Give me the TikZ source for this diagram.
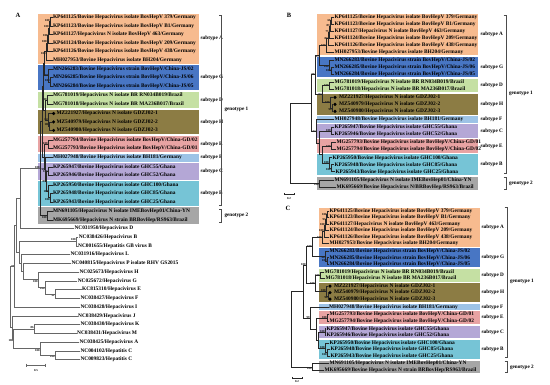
\documentclass[tikz,border=0pt]{standalone}
\usepackage{fontspec}
\setmainfont{Liberation Serif}
\definecolor{cA}{RGB}{247,187,143}
\definecolor{cG}{RGB}{72,118,196}
\definecolor{cD}{RGB}{197,224,163}
\definecolor{cH}{RGB}{140,124,68}
\definecolor{cE}{RGB}{232,163,163}
\definecolor{cF}{RGB}{157,195,230}
\definecolor{cC}{RGB}{180,167,214}
\definecolor{cB}{RGB}{118,196,214}
\definecolor{cN}{RGB}{166,166,166}
\begin{document}
\begin{tikzpicture}[x=1pt, y=-1pt,
  lf/.style={anchor=west, inner sep=0.3pt, font=\fontsize{5.4}{5.4}\selectfont\bfseries},
  st/.style={anchor=west, inner sep=0.3pt, font=\fontsize{5.2}{5.2}\selectfont\bfseries},
  dt/.style={circle, fill=black, inner sep=0pt, minimum size=3.4pt},
  bs/.style={inner sep=0.2pt, font=\fontsize{3}{3}\selectfont\bfseries},
  br/.style={draw=black!85, line width=0.5pt},
  og/.style={draw=black!60, line width=0.6pt},
  bk/.style={draw=black!70, line width=0.5pt},
  pn/.style={font=\fontsize{6.5}{6.5}\selectfont\bfseries}]
\useasboundingbox (0,0) rectangle (550,384);
% panel letters
\node[pn] (pA) at (18,15) {A};
\node[pn] (pB) at (289,15) {B};
\node[pn] (pC) at (288,208) {C};
% boxes A
\fill[cA] (38,13.55) rectangle (198.7,63.7);
\fill[cG] (38,65.25) rectangle (198.7,90.05);
\fill[cD] (38,91.6) rectangle (198.7,107.95);
\fill[cH] (38,109.5) rectangle (198.7,134.3);
\fill[cE] (38,135.85) rectangle (198.7,152.2);
\fill[cF] (38,153.75) rectangle (198.7,161.65);
\fill[cC] (38,163.2) rectangle (198.7,179.55);
\fill[cB] (38,181.1) rectangle (198.7,205.9);
\fill[cN] (38,207.45) rectangle (198.7,223.8);
% boxes B
\fill[cA] (317,13.75) rectangle (477.5,55.25);
\fill[cG] (317,56.85) rectangle (477.5,77.35);
\fill[cD] (317,78.95) rectangle (477.5,92.45);
\fill[cH] (317,94.05) rectangle (477.5,114.55);
\fill[cF] (317,116.15) rectangle (477.5,122.65);
\fill[cC] (317,124.25) rectangle (477.5,137.75);
\fill[cE] (317,139.35) rectangle (477.5,152.85);
\fill[cB] (317,154.45) rectangle (477.5,174.95);
\fill[cN] (317,176.55) rectangle (477.5,190.05);
% boxes C
\fill[cA] (318.5,207.9) rectangle (479.5,246.6);
\fill[cG] (318.5,248.1) rectangle (479.5,267.3);
\fill[cD] (318.5,268.8) rectangle (479.5,281.5);
\fill[cH] (318.5,283) rectangle (479.5,302.2);
\fill[cF] (318.5,303.7) rectangle (479.5,309.9);
\fill[cE] (318.5,311.4) rectangle (479.5,324.1);
\fill[cC] (318.5,325.6) rectangle (479.5,338.3);
\fill[cB] (318.5,339.8) rectangle (479.5,359);
\fill[cN] (318.5,360.5) rectangle (479.5,373.2);

% leaves A
\node[lf] (a1) at (52.5,17.5) {KP641125/Bovine Hepacivirus isolate BovHepV 379/Germany};
\node[lf] (a2) at (52.5,25.95) {KP641123/Bovine Hepacivirus isolate BovHepV B1/Germany};
\node[lf] (a3) at (52.5,34.4) {KP641127/Hepacivirus N isolate BovHepV 463/Germany};
\node[lf] (a4) at (52.5,42.85) {KP641124/Bovine Hepacivirus isolate BovHepV 209/Germany};
\node[lf] (a5) at (52.5,51.3) {KP641126/Bovine Hepacivirus isolate BovHepV 438/Germany};
\node[lf] (a6) at (52.5,59.75) {MH027953/Bovine Hepacivirus isolate BH204/Germany};
\node[lf] (a7) at (52.5,69.2) {MN266283/Bovine Hepacivirus strain BovHepV/China-JS/02};
\node[lf] (a8) at (52.5,77.65) {MN266285/Bovine Hepacivirus strain BovHepV/China-JS/06};
\node[lf] (a9) at (52.5,86.1) {MN266284/Bovine Hepacivirus strain BovHepV/China-JS/05};
\node[lf] (a10) at (52.5,95.55) {MG781019/Hepacivirus N isolate BR RN034B019/Brazil};
\node[lf] (a11) at (52.5,104) {MG781018/Hepacivirus N isolate BR MA236B017/Brazil};
\node[dt] (da12) at (53.6,113.45) {};
\node[dt] (da13) at (53.6,121.9) {};
\node[dt] (da14) at (53.6,130.35) {};
\node[lf] (a12) at (56,113.45) {MZ221927/Hepacivirus N isolate GDZJ02-1};
\node[lf] (a13) at (56,121.9) {MZ540979/Hepacivirus N isolate GDZJ02-2};
\node[lf] (a14) at (56,130.35) {MZ540980/Hepacivirus N isolate GDZJ02-3};
\node[lf] (a15) at (52.5,139.8) {MG257794/Bovine Hepacivirus isolate BovHepV/China-GD/02};
\node[lf] (a16) at (52.5,148.25) {MG257793/Bovine Hepacivirus isolate BovHepV/China-GD/01};
\node[lf] (a17) at (52.5,157.7) {MH027948/Bovine Hepacivirus isolate BH181/Germany};
\node[lf] (a18) at (52.5,167.15) {KP265947/Bovine Hepacivirus isolate GHC55/Ghana};
\node[lf] (a19) at (52.5,175.6) {KP265946/Bovine Hepacivirus isolate GHC52/Ghana};
\node[lf] (a20) at (52.5,185.05) {KP265950/Bovine Hepacivirus isolate GHC100/Ghana};
\node[lf] (a21) at (52.5,193.5) {KP265948/Bovine Hepacivirus isolate GHC85/Ghana};
\node[lf] (a22) at (52.5,201.95) {KP265943/Bovine Hepacivirus isolate GHC25/Ghana};
\node[lf] (a23) at (52.5,211.4) {MN691105/Hepacivirus N isolate IMEBovHep01/China-YN};
\node[lf] (a24) at (52.5,219.85) {MK695669/Hepacivirus N strain BRBovHep/RS963/Brazil};
\node[lf] (a25) at (74,228.3) {NC031950/Hepacivirus D};
\node[lf] (a26) at (78.3,237.05) {NC038426/Hepacivirus B};
\node[lf] (a27) at (77.7,245.8) {NC001655/Hepatitis GB virus B};
\node[lf] (a28) at (70,254.55) {NC031916/Hepacivirus L};
\node[lf] (a29) at (71,263.3) {NC040815/Hepacivirus P isolate RHV GS2015};
\node[lf] (a30) at (79,272.05) {NC025673/Hepacivirus H};
\node[lf] (a31) at (77.3,280.8) {NC025672/Hepacivirus G};
\node[lf] (a32) at (81.7,289.55) {KC815310/Hepacivirus E};
\node[lf] (a33) at (80,298.3) {NC038427/Hepacivirus F};
\node[lf] (a34) at (80,307.05) {NC038428/Hepacivirus I};
\node[lf] (a35) at (77.7,315.8) {NC038429/Hepacivirus J};
\node[lf] (a36) at (80,324.55) {NC038430/Hepacivirus K};
\node[lf] (a37) at (76.7,333.3) {NC038431/Hepacivirus M};
\node[lf] (a38) at (79,342.05) {NC038425/Hepacivirus A};
\node[lf] (a39) at (80,350.8) {NC004102/Hepatitis C};
\node[lf] (a40) at (80,359.55) {NC009823/Hepatitis C};
% subtypes A
\node[st] (sa1) at (200,38.6) {subtype A};
\node[st] (sa2) at (200,77.65) {subtype G};
\node[st] (sa3) at (200,99.8) {subtype D};
\node[st] (sa4) at (200,121.9) {subtype H};
\node[st] (sa5) at (200,144) {subtype E};
\node[st] (sa6) at (200,157.7) {subtype F};
\node[st] (sa7) at (200,171.4) {subtype C};
\node[st] (sa8) at (200,193.5) {subtype B};
\draw[bk] (219.2,15) -- (221.7,15) -- (221.7,205) -- (219.2,205);
\node[st] (ga1) at (224,109) {genotype 1};
\draw[bk] (219.2,209) -- (221.7,209) -- (221.7,222) -- (219.2,222);
\node[st] (ga2) at (224,215.6) {genotype 2};

% tree A
\coordinate[label={[bs]above left:100}] (aA1) at (50,21.7);
\coordinate[label={[bs]above left:100}] (aA2) at (49,28.1);
\coordinate[label={[bs]left:100}] (aA3) at (48,35.5);
\coordinate[label={[bs]above left:100}] (aA4) at (47,43.4);
\coordinate[label={[bs]below left:100}] (aA) at (46,51.6);
\coordinate[label={[bs]above left:100}] (aG1) at (50,81.9);
\coordinate[label={[bs]left:97}] (aG) at (48.5,75.5);
\coordinate (aAG) at (44.5,63.5);
\coordinate[label={[bs]left:100}] (aD) at (47,99.8);
\coordinate[label={[bs]above left:100}] (aH1) at (49.5,126.1);
\coordinate[label={[bs]left:64}] (aH) at (48,119.8);
\coordinate (aDH) at (45.5,109.8);
\coordinate (aup) at (43.5,86.6);
\coordinate[label={[bs]left:100}] (aE) at (48,144);
\coordinate[label={[bs]left:100}] (aC) at (48,171.4);
\coordinate[label={[bs]below left:100}] (aB1) at (50,197.7);
\coordinate[label={[bs]left:100}] (aB) at (48.5,191.4);
\coordinate[label={[bs]left:83}] (aCB) at (46,181.4);
\coordinate[label={[bs]left:99}] (aFCB) at (45,169.5);
\coordinate (alow) at (44,156.8);
\coordinate (ag1) at (42.5,121.7);
\coordinate[label={[bs]below left:100}] (ag2) at (47,215.6);
\coordinate[label={[bs]above left:100}] (abov) at (40,168.7);
\draw[br] (aA1) |- (a1.west) (aA1) |- (a2.west);
\draw[br] (aA2) |- (aA1) (aA2) |- (a3.west);
\draw[br] (aA3) |- (aA2) (aA3) |- (a4.west);
\draw[br] (aA4) |- (aA3) (aA4) |- (a5.west);
\draw[br] (aA) |- (aA4) (aA) |- (a6.west);
\draw[br] (aG1) |- (a8.west) (aG1) |- (a9.west);
\draw[br] (aG) |- (a7.west) (aG) |- (aG1);
\draw[br] (aAG) |- (aA) (aAG) |- (aG);
\draw[br] (aD) |- (a10.west) (aD) |- (a11.west);
\draw[br] (aH1) |- (da13.west) (aH1) |- (da14.west);
\draw[br] (aH) |- (da12.west) (aH) |- (aH1);
\draw[br] (aDH) |- (aD) (aDH) |- (aH);
\draw[br] (aup) |- (aAG) (aup) |- (aDH);
\draw[br] (aE) |- (a15.west) (aE) |- (a16.west);
\draw[br] (aC) |- (a18.west) (aC) |- (a19.west);
\draw[br] (aB1) |- (a21.west) (aB1) |- (a22.west);
\draw[br] (aB) |- (a20.west) (aB) |- (aB1);
\draw[br] (aCB) |- (aC) (aCB) |- (aB);
\draw[br] (aFCB) |- (a17.west) (aFCB) |- (aCB);
\draw[br] (alow) |- (aE) (alow) |- (aFCB);
\draw[br] (ag1) |- (aup) (ag1) |- (alow);
\draw[br] (ag2) |- (a23.west) (ag2) |- (a24.west);
\draw[br] (abov) |- (ag1) (abov) |- (ag2);
% outgroups A
\coordinate (aDB) at (20.7,198.5);
\coordinate[label={[bs]above left:100}] (aBGB) at (76,241.4);
\coordinate[label={[bs]below left:91}] (aEF) at (55,293.9);
\coordinate[label={[bs]below left:100}] (aGEF) at (45,287.4);
\coordinate[label={[bs]below left:100}] (aHGEF) at (38,279.7);
\coordinate (aPHGEF) at (23,271.5);
\coordinate (aLP) at (21,263);
\coordinate (aBL) at (19,252.2);
\coordinate (aBig) at (16.5,225.4);
\coordinate[label={[bs]left:78}] (aI) at (14.5,266.2);
\coordinate[label={[bs]above left:86}] (aKM) at (34,328.9);
\coordinate[label={[bs]below left:100}] (aHCV) at (55,355.2);
\coordinate[label={[bs]below left:100}] (aAH) at (40,348.6);
\coordinate[label={[bs]below left:100}] (aKMAH) at (13.5,338.8);
\coordinate (aJ) at (12,327.3);
\coordinate (aroot) at (10,296.8);
\draw[og] (aDB) |- (abov) (aDB) |- (a25.west);
\draw[og] (aBGB) |- (a26.west) (aBGB) |- (a27.west);
\draw[og] (aEF) |- (a32.west) (aEF) |- (a33.west);
\draw[og] (aGEF) |- (a31.west) (aGEF) |- (aEF);
\draw[og] (aHGEF) |- (a30.west) (aHGEF) |- (aGEF);
\draw[og] (aPHGEF) |- (a29.west) (aPHGEF) |- (aHGEF);
\draw[og] (aLP) |- (a28.west) (aLP) |- (aPHGEF);
\draw[og] (aBL) |- (aBGB) (aBL) |- (aLP);
\draw[og] (aBig) |- (aDB) (aBig) |- (aBL);
\draw[og] (aI) |- (aBig) (aI) |- (a34.west);
\draw[og] (aKM) |- (a36.west) (aKM) |- (a37.west);
\draw[og] (aHCV) |- (a39.west) (aHCV) |- (a40.west);
\draw[og] (aAH) |- (a38.west) (aAH) |- (aHCV);
\draw[og] (aKMAH) |- (aKM) (aKMAH) |- (aAH);
\draw[og] (aJ) |- (a35.west) (aJ) |- (aKMAH);
\draw[og] (aroot) |- (aI) (aroot) |- (aJ);
% scale A
\draw[og] (26.7,365) -- (45,365) (26.7,363.5) -- (26.7,366.5) (45,363.5) -- (45,366.5);
\node[bs] (sca) at (36,370.5) {0.5};

% leaves B
\node[lf] (b1) at (334,17) {KP641125/Bovine Hepacivirus isolate BovHepV 379/Germany};
\node[lf] (b2) at (334,24) {KP641123/Bovine Hepacivirus isolate BovHepV B1/Germany};
\node[lf] (b3) at (334,31) {KP641127/Hepacivirus N isolate BovHepV 463/Germany};
\node[lf] (b4) at (334,38) {KP641124/Bovine Hepacivirus isolate BovHepV 209/Germany};
\node[lf] (b5) at (334,45) {KP641126/Bovine Hepacivirus isolate BovHepV 438/Germany};
\node[lf] (b6) at (334,52) {MH027953/Bovine Hepacivirus isolate BH204/Germany};
\node[lf] (b7) at (334,60.1) {MN266283/Bovine Hepacivirus strain BovHepV/China-JS/02};
\node[lf] (b8) at (334,67.1) {MN266285/Bovine Hepacivirus strain BovHepV/China-JS/06};
\node[lf] (b9) at (334,74.1) {MN266284/Bovine Hepacivirus strain BovHepV/China-JS/05};
\node[lf] (b10) at (334,82.2) {MG781019/Hepacivirus N isolate BR RN034B019/Brazil};
\node[lf] (b11) at (334,89.2) {MG781018/Hepacivirus N isolate BR MA236B017/Brazil};
\node[dt] (db12) at (335,97.3) {};
\node[dt] (db13) at (335,104.3) {};
\node[dt] (db14) at (335,111.3) {};
\node[lf] (b12) at (338.5,97.3) {MZ221927/Hepacivirus N isolate GDZJ02-1};
\node[lf] (b13) at (338.5,104.3) {MZ540979/Hepacivirus N isolate GDZJ02-2};
\node[lf] (b14) at (338.5,111.3) {MZ540980/Hepacivirus N isolate GDZJ02-3};
\node[lf] (b15) at (334,119.4) {MH027948/Bovine Hepacivirus isolate BH181/Germany};
\node[lf] (b16) at (334,127.5) {KP265947/Bovine Hepacivirus isolate GHC55/Ghana};
\node[lf] (b17) at (334,134.5) {KP265946/Bovine Hepacivirus isolate GHC52/Ghana};
\node[lf] (b18) at (336,142.6) {MG257793/Bovine Hepacivirus isolate BovHepV/China-GD/01};
\node[lf] (b19) at (336,149.6) {MG257794/Bovine Hepacivirus isolate BovHepV/China-GD/02};
\node[lf] (b20) at (332,157.7) {KP265950/Bovine Hepacivirus isolate GHC100/Ghana};
\node[lf] (b21) at (334,164.7) {KP265948/Bovine Hepacivirus isolate GHC85/Ghana};
\node[lf] (b22) at (335,171.7) {KP265943/Bovine Hepacivirus isolate GHC25/Ghana};
\node[lf] (b23) at (334,179.8) {MN691105/Hepacivirus N isolate IMEBovHep01/China-YN};
\node[lf] (b24) at (336,186.8) {MK695669/Bovine Hepacivirus N/BRBovHep/RS963/Brazil};
% subtypes B
\node[st] (sb1) at (480,34.5) {subtype A};
\node[st] (sb2) at (480,67.1) {subtype G};
\node[st] (sb3) at (480,85.7) {subtype D};
\node[st] (sb4) at (480,104.3) {subtype H};
\node[st] (sb5) at (480,119.4) {subtype F};
\node[st] (sb6) at (480,131) {subtype C};
\node[st] (sb7) at (480,146.1) {subtype E};
\node[st] (sb8) at (480,164.7) {subtype B};
\draw[bk] (503.5,15) -- (506,15) -- (506,173) -- (503.5,173);
\node[st] (gb1) at (508.5,93) {genotype 1};
\draw[bk] (503.5,177) -- (506,177) -- (506,189) -- (503.5,189);
\node[st] (gb2) at (508.5,183.3) {genotype 2};

% tree B
\coordinate[label={[bs]left:66}] (bA1) at (331,20.5);
\coordinate[label={[bs]left:83}] (bA2) at (330,25.75);
\coordinate[label={[bs]left:75}] (bA3) at (329,31.9);
\coordinate[label={[bs]left:87}] (bA4) at (328,38.45);
\coordinate[label={[bs]left:100}] (bA) at (326,45.2);
\coordinate[label={[bs]left:100}] (bG1) at (331,70.6);
\coordinate[label={[bs]below left:100}] (bG) at (329,65.35);
\coordinate[label={[bs]below left:95}] (bAG) at (319,55.3);
\coordinate[label={[bs]left:100}] (bD) at (329,85.7);
\coordinate[label={[bs]below left:99}] (bH1) at (332,107.8);
\coordinate[label={[bs]left:100}] (bH) at (330,102.55);
\coordinate[label={[bs]left:92}] (bDH) at (322,94.1);
\coordinate[label={[bs]left:98}] (bAGDH) at (315,74.7);
\coordinate[label={[bs]left:100}] (bC) at (331,131);
\coordinate[label={[bs]left:100}] (bE) at (331,146.1);
\coordinate[label={[bs]below left:100}] (bB1) at (331,168.2);
\coordinate[label={[bs]left:100}] (bB) at (329,162.95);
\coordinate (bEB) at (322,154.5);
\coordinate (bCEB) at (319,142.75);
\coordinate[label={[bs]left:72}] (bFCEB) at (316,131.1);
\coordinate (bg1) at (311,102.9);
\coordinate[label={[bs]below left:100}] (bg2) at (319,183.3);
\coordinate (broot) at (290,143.1);
\draw[br] (bA1) |- (b1.west) (bA1) |- (b2.west);
\draw[br] (bA2) |- (bA1) (bA2) |- (b3.west);
\draw[br] (bA3) |- (bA2) (bA3) |- (b4.west);
\draw[br] (bA4) |- (bA3) (bA4) |- (b5.west);
\draw[br] (bA) |- (bA4) (bA) |- (b6.west);
\draw[br] (bG1) |- (b8.west) (bG1) |- (b9.west);
\draw[br] (bG) |- (b7.west) (bG) |- (bG1);
\draw[br] (bAG) |- (bA) (bAG) |- (bG);
\draw[br] (bD) |- (b10.west) (bD) |- (b11.west);
\draw[br] (bH1) |- (db13.west) (bH1) |- (db14.west);
\draw[br] (bH) |- (db12.west) (bH) |- (bH1);
\draw[br] (bDH) |- (bD) (bDH) |- (bH);
\draw[br] (bAGDH) |- (bAG) (bAGDH) |- (bDH);
\draw[br] (bC) |- (b16.west) (bC) |- (b17.west);
\draw[br] (bE) |- (b18.west) (bE) |- (b19.west);
\draw[br] (bB1) |- (b21.west) (bB1) |- (b22.west);
\draw[br] (bB) |- (b20.west) (bB) |- (bB1);
\draw[br] (bEB) |- (bE) (bEB) |- (bB);
\draw[br] (bCEB) |- (bC) (bCEB) |- (bEB);
\draw[br] (bFCEB) |- (b15.west) (bFCEB) |- (bCEB);
\draw[br] (bg1) |- (bAGDH) (bg1) |- (bFCEB);
\draw[br] (bg2) |- (b23.west) (bg2) |- (b24.west);
\draw[br] (broot) |- (bg1) (broot) |- (bg2);
% scale B
\draw[br] (284,194) -- (294,194) (284,192.8) -- (284,195.2) (294,192.8) -- (294,195.2);
\node[bs] (scb) at (289,198.5) {0.2};

% leaves C
\node[lf] (c1) at (329,211) {KP641125/Bovine Hepacivirus isolate BovHepV 379/Germany};
\node[lf] (c2) at (329,217.5) {KP641123/Bovine Hepacivirus isolate BovHepV B1/Germany};
\node[lf] (c3) at (329,224) {KP641127/Hepacivirus N isolate BovHepV 463/Germany};
\node[lf] (c4) at (329,230.5) {KP641124/Bovine Hepacivirus isolate BovHepV 209/Germany};
\node[lf] (c5) at (329,237) {KP641126/Bovine Hepacivirus isolate BovHepV 438/Germany};
\node[lf] (c6) at (329,243.5) {MH027953/Bovine Hepacivirus isolate BH204/Germany};
\node[lf] (c7) at (329,251.2) {MN266283/Bovine Hepacivirus strain BovHepV/China-JS/02};
\node[lf] (c8) at (329,257.7) {MN266285/Bovine Hepacivirus strain BovHepV/China-JS/06};
\node[lf] (c9) at (329,264.2) {MN266284/Bovine Hepacivirus strain BovHepV/China-JS/05};
\node[lf] (c10) at (324,271.9) {MG781019/Hepacivirus N isolate BR RN034B019/Brazil};
\node[lf] (c11) at (325,278.4) {MG781018/Hepacivirus N isolate BR MA236B017/Brazil};
\node[dt] (dc12) at (330,286.1) {};
\node[dt] (dc13) at (330,292.6) {};
\node[dt] (dc14) at (330,299.1) {};
\node[lf] (c12) at (333.5,286.1) {MZ221927/Hepacivirus N isolate GDZJ02-1};
\node[lf] (c13) at (333.5,292.6) {MZ540979/Hepacivirus N isolate GDZJ02-2};
\node[lf] (c14) at (333.5,299.1) {MZ540980/Hepacivirus N isolate GDZJ02-3};
\node[lf] (c15) at (328.5,306.8) {MH027948/Bovine Hepacivirus isolate BH181/Germany};
\node[lf] (c16) at (329,314.5) {MG257793/Bovine Hepacivirus isolate BovHepV/China-GD/01};
\node[lf] (c17) at (329,321) {MG257794/Bovine Hepacivirus isolate BovHepV/China-GD/02};
\node[lf] (c18) at (326,328.7) {KP265947/Bovine Hepacivirus isolate GHC55/Ghana};
\node[lf] (c19) at (326,335.2) {KP265946/Bovine Hepacivirus isolate GHC52/Ghana};
\node[lf] (c20) at (329,342.9) {KP265950/Bovine Hepacivirus isolate GHC100/Ghana};
\node[lf] (c21) at (330,349.4) {KP265948/Bovine Hepacivirus isolate GHC85/Ghana};
\node[lf] (c22) at (330,355.9) {KP265943/Bovine Hepacivirus isolate GHC25/Ghana};
\node[lf] (c23) at (329,363.6) {MN691105/Hepacivirus N isolate IMEBovHep01/China-YN};
\node[lf] (c24) at (324,370.1) {MK695669/Bovine Hepacivirus N strain BRBovHep/RS963/Brazil};
% subtypes C
\node[st] (sc1) at (481,227.25) {subtype A};
\node[st] (sc2) at (481,257.7) {subtype G};
\node[st] (sc3) at (481,275.15) {subtype D};
\node[st] (sc4) at (481,292.6) {subtype H};
\node[st] (sc5) at (481,306.8) {subtype F};
\node[st] (sc6) at (481,317.75) {subtype E};
\node[st] (sc7) at (481,331.95) {subtype C};
\node[st] (sc8) at (481,349.4) {subtype B};
\draw[bk] (504.5,207) -- (507,207) -- (507,357) -- (504.5,357);
\node[st] (gc1) at (509.5,281) {genotype 1};
\draw[bk] (504.5,361) -- (507,361) -- (507,372) -- (504.5,372);
\node[st] (gc2) at (509.5,366.85) {genotype 2};

% tree C
\coordinate[label={[bs]left:100}] (cA1) at (327,214.25);
\coordinate[label={[bs]left:93}] (cA2) at (326,219.13);
\coordinate[label={[bs]left:100}] (cA3) at (325,224.8);
\coordinate[label={[bs]left:100}] (cA4) at (324,230.9);
\coordinate[label={[bs]left:100}] (cA) at (322,237.2);
\coordinate[label={[bs]left:100}] (cG1) at (327,260.95);
\coordinate[label={[bs]below left:96}] (cG) at (325,256.1);
\coordinate[label={[bs]left:100}] (cAG) at (312,246.65);
\coordinate[label={[bs]left:100}] (cD) at (320,275.15);
\coordinate[label={[bs]below left:98}] (cH1) at (328,295.85);
\coordinate[label={[bs]left:100}] (cH) at (326,291);
\coordinate[label={[bs]left:100}] (cDH) at (315,283.1);
\coordinate[label={[bs]left:100}] (cAGDH) at (306,264.9);
\coordinate[label={[bs]left:100}] (cE) at (327,317.75);
\coordinate[label={[bs]left:100}] (cC) at (325,331.95);
\coordinate[label={[bs]below left:100}] (cB1) at (327,352.65);
\coordinate[label={[bs]left:100}] (cB) at (325,347.8);
\coordinate (cCB) at (318,339.9);
\coordinate (cECB) at (316,328.8);
\coordinate[label={[bs]left:99}] (cFECB) at (310,317.8);
\coordinate (cg1) at (303,291.35);
\coordinate[label={[bs]below left:100}] (cg2) at (312,366.85);
\coordinate (croot) at (291,329.1);
\draw[br] (cA1) |- (c1.west) (cA1) |- (c2.west);
\draw[br] (cA2) |- (cA1) (cA2) |- (c3.west);
\draw[br] (cA3) |- (cA2) (cA3) |- (c4.west);
\draw[br] (cA4) |- (cA3) (cA4) |- (c5.west);
\draw[br] (cA) |- (cA4) (cA) |- (c6.west);
\draw[br] (cG1) |- (c8.west) (cG1) |- (c9.west);
\draw[br] (cG) |- (c7.west) (cG) |- (cG1);
\draw[br] (cAG) |- (cA) (cAG) |- (cG);
\draw[br] (cD) |- (c10.west) (cD) |- (c11.west);
\draw[br] (cH1) |- (dc13.west) (cH1) |- (dc14.west);
\draw[br] (cH) |- (dc12.west) (cH) |- (cH1);
\draw[br] (cDH) |- (cD) (cDH) |- (cH);
\draw[br] (cAGDH) |- (cAG) (cAGDH) |- (cDH);
\draw[br] (cE) |- (c16.west) (cE) |- (c17.west);
\draw[br] (cC) |- (c18.west) (cC) |- (c19.west);
\draw[br] (cB1) |- (c21.west) (cB1) |- (c22.west);
\draw[br] (cB) |- (c20.west) (cB) |- (cB1);
\draw[br] (cCB) |- (cC) (cCB) |- (cB);
\draw[br] (cECB) |- (cE) (cECB) |- (cCB);
\draw[br] (cFECB) |- (c15.west) (cFECB) |- (cECB);
\draw[br] (cg1) |- (cAGDH) (cg1) |- (cFECB);
\draw[br] (cg2) |- (c23.west) (cg2) |- (c24.west);
\draw[br] (croot) |- (cg1) (croot) |- (cg2);
% scale C
\draw[br] (292,378) -- (302,378) (292,376.8) -- (292,379.2) (302,376.8) -- (302,379.2);
\node[bs] (scc) at (297,382) {0.2};
\end{tikzpicture}
\end{document}
